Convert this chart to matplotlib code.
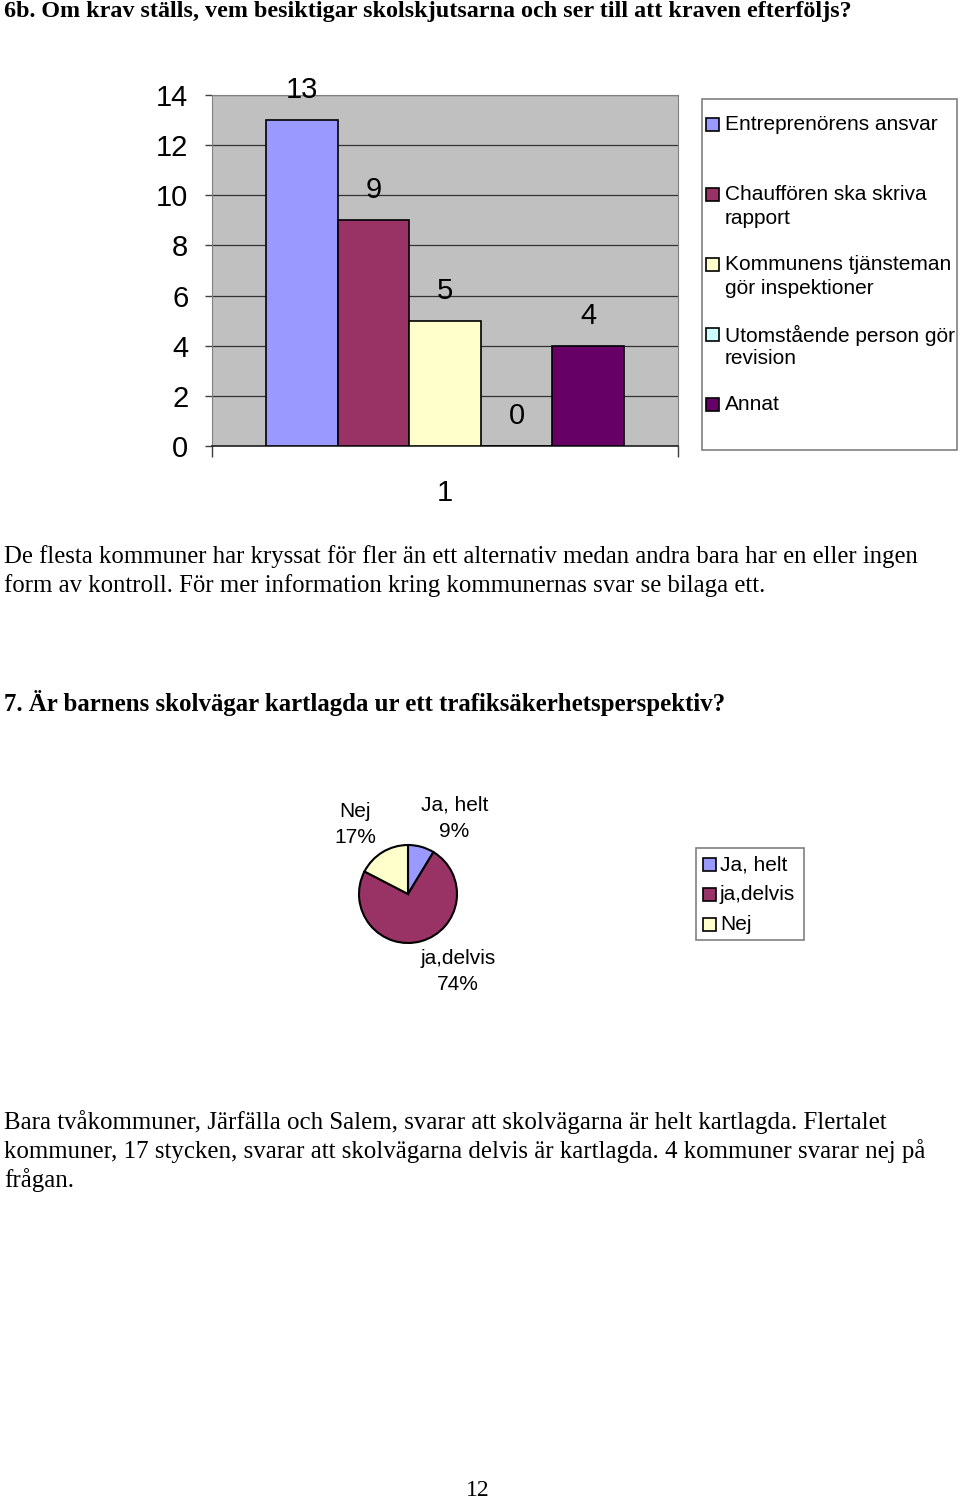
import matplotlib
matplotlib.use("Agg")
import numpy as np
import matplotlib.pyplot as plt
from matplotlib.patches import Rectangle

# Config

W, H = 960, 1502
SANS = "Liberation Sans"
SERIF = "Liberation Serif"

# Data: question 6b (bar chart)
bar_labels = [
    "Entreprenörens ansvar",
    "Chauffören ska skriva\nrapport",
    "Kommunens tjänsteman\ngör inspektioner",
    "Utomstående person gör\nrevision",
    "Annat",
]
bar_values = [13, 9, 5, 0, 4]
bar_colors = ["#9999FF", "#993366", "#FFFFCC", "#CCFFFF", "#660066"]
bar_category = "1"
y_ticks = [0, 2, 4, 6, 8, 10, 12, 14]

# Data: question 7 (pie chart)
pie_labels = ["Ja, helt", "ja,delvis", "Nej"]
pie_counts = [2, 17, 4]
pie_colors = ["#9999FF", "#993366", "#FFFFCC"]

heading_6b = "6b. Om krav ställs, vem besiktigar skolskjutsarna och ser till att kraven efterföljs?"
text_6b = [
    "De flesta kommuner har kryssat för fler än ett alternativ medan andra bara har en eller ingen",
    "form av kontroll. För mer information kring kommunernas svar se bilaga ett.",
]
heading_7 = "7. Är barnens skolvägar kartlagda ur ett trafiksäkerhetsperspektiv?"
text_7 = [
    "Bara tvåkommuner, Järfälla och Salem, svarar att skolvägarna är helt kartlagda. Flertalet",
    "kommuner, 17 stycken, svarar att skolvägarna delvis är kartlagda. 4 kommuner svarar nej på",
    "frågan.",
]
page_number = "12"


def px_axes(fig, x0, y0, x1, y1):
    return fig.add_axes([x0 / W, 1 - y1 / H, (x1 - x0) / W, (y1 - y0) / H])


def page_text(fig, x, y, s, **kw):
    fig.text(x / W, 1 - y / H, s, va="center", **kw)


fig = plt.figure(figsize=(W / 100, H / 100), dpi=100)
fig.patch.set_facecolor("white")

# Bar chart
ax = px_axes(fig, 212, 95, 678, 446)
ax.set_facecolor("#C0C0C0")
bw = 0.1534
n = len(bar_values)
for i, (v, c) in enumerate(zip(bar_values, bar_colors)):
    xpos = (i - (n - 1) / 2) * bw
    ax.bar(xpos, v, width=bw, color=c, edgecolor="black", linewidth=1.2, zorder=3)
    ax.annotate(str(v), (xpos, v), xytext=(0, 30), textcoords="offset pixels",
                ha="center", va="center", fontsize=21, family=SANS)
ax.set_xlim(-0.5, 0.5)
ax.set_ylim(0, 14)
ax.set_yticks(y_ticks)
ax.set_yticklabels([str(t) for t in y_ticks], fontsize=21, family=SANS)
ax.set_xticks([0])
ax.set_xticklabels([bar_category], fontsize=21, family=SANS)
ax.set_xticks([-0.5, 0.5], minor=True)
ax.tick_params(axis="x", which="major", length=0, pad=24)
ax.tick_params(axis="x", which="minor", length=8, width=1, color="#404040", direction="out")
ax.tick_params(axis="y", length=5, width=1, color="#404040", pad=12)
ax.grid(axis="y", color="#333333", linewidth=0.9, zorder=1)
for side in ["top", "right", "left"]:
    ax.spines[side].set_color("#808080")
ax.spines["bottom"].set_color("#202020")
ax.spines["bottom"].set_linewidth(1.2)

# Bar legend (drawn on a full-page overlay axes)
ov = fig.add_axes([0, 0, 1, 1])
ov.set_xlim(0, W)
ov.set_ylim(H, 0)
ov.axis("off")
ov.add_patch(Rectangle((702, 99), 255, 351, facecolor="white", edgecolor="#808080", linewidth=1.2))
for i, (lab, c) in enumerate(zip(bar_labels, bar_colors)):
    yc = 124 + i * 70
    ov.add_patch(Rectangle((706, yc - 6.5), 13, 13, facecolor=c, edgecolor="black", linewidth=1.2))
    for j, line in enumerate(lab.split("\n")):
        ov.text(725, yc + 1 + j * 23, line, ha="left", va="center", fontsize=15, family=SANS)

# Pie chart
axp = px_axes(fig, 358, 844, 458, 944)
wedges, _ = axp.pie(pie_counts, colors=pie_colors, startangle=90, counterclock=False,
                    radius=0.98, wedgeprops=dict(edgecolor="black", linewidth=1.5))
axp.set_xlim(-1, 1)
axp.set_ylim(-1, 1)
axp.set_aspect("equal")
total = sum(pie_counts)
for wdg, lab, cnt in zip(wedges, pie_labels, pie_counts):
    ang = np.deg2rad((wdg.theta1 + wdg.theta2) / 2)
    cx, cy = np.cos(ang), np.sin(ang)
    pct = round(100 * cnt / total)
    axp.text(1.12 * cx - 0.05, 1.12 * cy - 0.02, f"{lab}\n{pct}%",
             ha="left" if cx > 0 else "right", va="bottom" if cy > 0 else "top",
             multialignment="center", fontsize=15, family=SANS, linespacing=1.5)

# Pie legend
ov.add_patch(Rectangle((696, 848), 108, 92, facecolor="white", edgecolor="#808080", linewidth=1.2))
for i, (lab, c) in enumerate(zip(pie_labels, pie_colors)):
    yc = 864 + i * 30
    ov.add_patch(Rectangle((703, yc - 6.5), 13, 13, facecolor=c, edgecolor="black", linewidth=1.2))
    ov.text(720, yc + 1, lab, ha="left", va="center", fontsize=15, family=SANS)

# Page text
page_text(fig, 4, 12, heading_6b, fontsize=17.4, family=SERIF, weight="bold")
for k, line in enumerate(text_6b):
    page_text(fig, 4, 557 + k * 29, line, fontsize=17.8, family=SERIF)
page_text(fig, 4, 703, heading_7, fontsize=17.9, family=SERIF, weight="bold")
for k, line in enumerate(text_7):
    page_text(fig, 4, 1122 + k * 29, line, fontsize=17.9, family=SERIF)
page_text(fig, 478, 1490, page_number, fontsize=17, family=SERIF, ha="center")

fig.savefig("out.png", dpi=100)
